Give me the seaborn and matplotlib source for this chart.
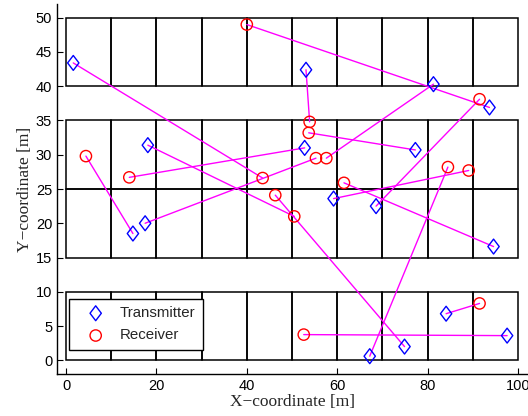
import numpy as np
import pandas as pd
import matplotlib
matplotlib.use("Agg")
import matplotlib.pyplot as plt
from matplotlib.patches import Rectangle
from matplotlib.path import Path
import seaborn as sns

# Transmitter / receiver link positions [m]
tx_x = [1.6, 18.1, 14.8, 17.5, 52.8, 53.1, 77.3, 81.3, 93.7, 94.6, 59.2, 68.6, 67.2, 74.9, 84.1, 97.6]
tx_y = [43.4, 31.4, 18.5, 20.0, 31.0, 42.4, 30.7, 40.3, 36.9, 16.6, 23.6, 22.5, 0.6, 2.0, 6.8, 3.6]
rx_x = [43.5, 50.5, 4.4, 55.3, 14.0, 53.9, 53.7, 57.6, 40.0, 61.5, 89.1, 91.5, 84.5, 46.3, 91.5, 52.6]
rx_y = [26.6, 21.0, 29.8, 29.5, 26.7, 34.8, 33.2, 29.5, 49.0, 25.9, 27.7, 38.1, 28.2, 24.1, 8.3, 3.75]

# Building blocks: column left edges and row spans [m]
block_x = np.arange(0, 100, 10)
block_rows = [(0, 10), (15, 25), (25, 35), (40, 50)]
block_w = 10

x_ticks = list(range(0, 101, 20))
y_ticks = list(range(0, 51, 5))

sns.set_style("white")
plt.rcParams["font.family"] = ["Liberation Sans", "DejaVu Sans"]

fig = plt.figure(figsize=(5.28, 4.16), dpi=100)
ax = fig.add_axes([57 / 528, 42 / 416, 470 / 528, 370 / 416])

for (y0, y1) in block_rows:
    for x0 in block_x:
        ax.add_patch(Rectangle((x0, y0), block_w, y1 - y0, fill=False,
                               edgecolor="black", linewidth=1.1, zorder=1))

links = pd.DataFrame({
    "link": np.repeat(np.arange(len(tx_x)), 2),
    "x": np.ravel(np.column_stack([tx_x, rx_x])),
    "y": np.ravel(np.column_stack([tx_y, rx_y])),
})
sns.lineplot(data=links, x="x", y="y", units="link", estimator=None, sort=False,
             color="#ff00ff", linewidth=1.0, ax=ax, zorder=2, legend=False)

diamond = Path([(0, -1), (0.76, 0), (0, 1), (-0.76, 0), (0, -1)],
               [Path.MOVETO, Path.LINETO, Path.LINETO, Path.LINETO, Path.CLOSEPOLY])
sns.scatterplot(x=tx_x, y=tx_y, marker=diamond, s=115, facecolor="none",
                edgecolor="blue", linewidth=1.0, label="Transmitter", ax=ax, zorder=3)
sns.scatterplot(x=rx_x, y=rx_y, marker="o", s=66, facecolor="none",
                edgecolor="red", linewidth=1.0, label="Receiver", ax=ax, zorder=3)

ax.set_xlim(-2, 102)
ax.set_ylim(-2, 52)
ax.set_xticks(x_ticks)
ax.set_yticks(y_ticks)
ax.tick_params(direction="in", length=4, width=0.8, labelsize=10.5, colors="black",
               left=True, bottom=True)
for side in ("top", "right"):
    ax.spines[side].set_visible(False)
for side in ("left", "bottom"):
    ax.spines[side].set_color("black")
    ax.spines[side].set_linewidth(1.0)

ax.set_xlabel("X\u2212coordinate [m]", family=["Liberation Serif"], fontsize=12.5, labelpad=1)
ax.set_ylabel("Y\u2212coordinate [m]", family=["Liberation Serif"], fontsize=12.5, labelpad=2)

leg = ax.legend(loc="lower left", bbox_to_anchor=(0.0255, 0.065), borderaxespad=0,
                fancybox=False, framealpha=1, edgecolor="black", fontsize=10.8,
                handlelength=2.56, handletextpad=0.32, borderpad=0.5, labelspacing=0.55)
leg.get_frame().set_linewidth(1.0)

fig.savefig("out.png", dpi=100)
